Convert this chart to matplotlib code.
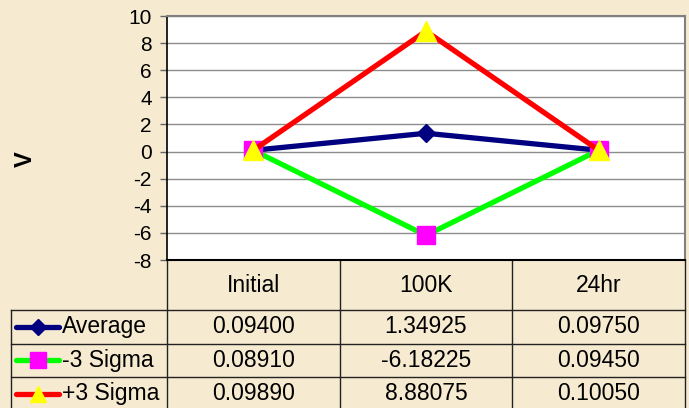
import matplotlib.pyplot as plt
from matplotlib.lines import Line2D
from matplotlib.transforms import blended_transform_factory

plt.rcParams["font.family"] = ["Liberation Sans", "DejaVu Sans"]

CATEGORIES = ["Initial", "100K", "24hr"]
SERIES = ["Average", "-3 Sigma", "+3 Sigma"]
AVERAGE = [0.09400, 1.34925, 0.09750]
MINUS_3_SIGMA = [0.08910, -6.18225, 0.09450]
PLUS_3_SIGMA = [0.09890, 8.88075, 0.10050]
Y_TICKS = [10, 8, 6, 4, 2, 0, -2, -4, -6, -8]

BG = "#f6ead0"
STYLES = {
    "Average": dict(color="#000080", marker="D", mfc="#000080", mec="#000080", ms=9),
    "-3 Sigma": dict(color="#00ff00", marker="s", mfc="#ff00ff", mec="#ff00ff", ms=13),
    "+3 Sigma": dict(color="#ff0000", marker="^", mfc="#ffff00", mec="#ffff00", ms=14),
}
TICK_FONT = 15
TABLE_FONT = 16.5


def main():
    W, H = 689, 408
    fig = plt.figure(figsize=(W / 100, H / 100), dpi=100, facecolor=BG)

    # overlay in pixel coordinates for the data table
    over = fig.add_axes([0, 0, 1, 1], zorder=0)
    over.set_xlim(0, W)
    over.set_ylim(H, 0)
    over.axis("off")

    left, right, top, bottom = 167, 685, 16, 260
    ax = fig.add_axes([left / W, (H - bottom) / H, (right - left) / W, (bottom - top) / H], zorder=2)
    ax.set_facecolor("white")

    x = range(len(CATEGORIES))
    values = {"Average": AVERAGE, "-3 Sigma": MINUS_3_SIGMA, "+3 Sigma": PLUS_3_SIGMA}
    for name in SERIES:
        st = STYLES[name]
        ax.plot(x, values[name], color=st["color"], lw=3.8, marker=st["marker"],
                mfc=st["mfc"], mec=st["mec"], ms=st["ms"], zorder=3, clip_on=False)

    ax.set_xlim(-0.5, len(CATEGORIES) - 0.5)
    ax.set_ylim(-8, 10)
    ax.set_yticks(Y_TICKS)
    ax.set_yticklabels([str(t) for t in Y_TICKS], fontsize=TICK_FONT)
    ax.set_xticks([])
    ax.tick_params(axis="y", length=5, width=1, pad=6, color="#666666")
    ax.grid(axis="y", color="#8c8c8c", linewidth=1)
    ax.set_axisbelow(True)
    for side in ("top", "right"):
        ax.spines[side].set_color("#808080")
        ax.spines[side].set_linewidth(1.5)
    ax.spines["left"].set_color("black")
    ax.spines["bottom"].set_color("black")
    ax.spines["left"].set_linewidth(1.2)
    ax.spines["bottom"].set_linewidth(1.5)

    fig.text(25 / W, 1 - 159 / H, "V", rotation=90, fontsize=17, fontweight="bold",
             ha="center", va="center")

    # data table below the plot
    tr = blended_transform_factory(ax.transData, over.transData)
    line_kw = dict(color="#222222", linewidth=1, clip_on=False)
    header_bottom, row_h = 310, 33.5
    bounds = [i - 0.5 for i in range(len(CATEGORIES) + 1)]
    for b in bounds:
        over.add_line(Line2D([b, b], [bottom, H], transform=tr, **line_kw))
    table_left = 11
    over.plot([table_left, table_left], [header_bottom, H], **line_kw)
    for i in range(len(SERIES)):
        y = header_bottom + i * row_h
        over.plot([table_left, right], [y, y], **line_kw)

    for i, cat in enumerate(CATEGORIES):
        over.text(i, 285, cat, transform=tr, ha="center", va="center", fontsize=TABLE_FONT)

    for r, name in enumerate(SERIES):
        yc = header_bottom + (r + 0.5) * row_h
        st = STYLES[name]
        over.plot([16, 59], [yc, yc], color=st["color"], lw=3.8, solid_capstyle="round")
        over.plot([37.5], [yc], marker=st["marker"], mfc=st["mfc"], mec=st["mec"],
                  ms=st["ms"] * 0.85, color=st["color"])
        over.text(62, yc, name, ha="left", va="center", fontsize=TABLE_FONT)
        for i, v in enumerate(values[name]):
            over.text(i, yc, f"{v:.5f}", transform=tr, ha="center", va="center",
                      fontsize=TABLE_FONT)

    fig.savefig("out.png", dpi=100, facecolor=BG)
    plt.close(fig)


if __name__ == "__main__":
    main()
